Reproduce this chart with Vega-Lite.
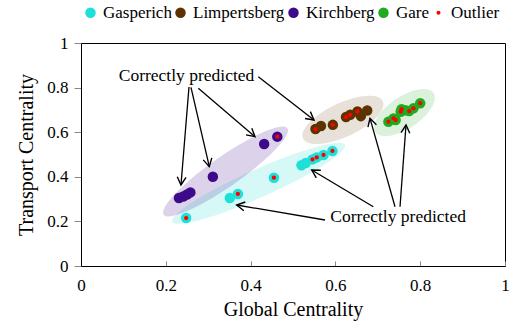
{
  "$schema": "https://vega.github.io/schema/vega-lite/v6.json",
  "width": 424,
  "height": 223,
  "autosize": {"type": "none"},
  "padding": {"left": 81, "top": 43, "right": 13, "bottom": 59},
  "config": {
    "font": "Liberation Serif",
    "view": {"stroke": "black", "strokeWidth": 1},
    "axis": {"grid": false, "labelFlush": false, "domainColor": "black", "tickColor": "#888888", "labelFont": "Liberation Serif", "titleFont": "Liberation Serif", "labelFontSize": 17, "titleFontSize": 20, "titleFontWeight": "normal", "labelColor": "black", "titleColor": "black"},
    "legend": {"labelFont": "Liberation Serif", "labelFontSize": 17}
  },
  "datasets": {
    "points": [
      {"group": "Gasperich", "x": 0.248, "y": 0.215, "outlier": true},
      {"group": "Gasperich", "x": 0.351, "y": 0.305, "outlier": false},
      {"group": "Gasperich", "x": 0.370, "y": 0.323, "outlier": true},
      {"group": "Gasperich", "x": 0.455, "y": 0.396, "outlier": true},
      {"group": "Gasperich", "x": 0.520, "y": 0.452, "outlier": false},
      {"group": "Gasperich", "x": 0.530, "y": 0.462, "outlier": false},
      {"group": "Gasperich", "x": 0.546, "y": 0.478, "outlier": true},
      {"group": "Gasperich", "x": 0.556, "y": 0.487, "outlier": true},
      {"group": "Gasperich", "x": 0.572, "y": 0.498, "outlier": true},
      {"group": "Gasperich", "x": 0.593, "y": 0.516, "outlier": true},
      {"group": "Kirchberg", "x": 0.231, "y": 0.305, "outlier": false},
      {"group": "Kirchberg", "x": 0.241, "y": 0.312, "outlier": false},
      {"group": "Kirchberg", "x": 0.250, "y": 0.321, "outlier": false},
      {"group": "Kirchberg", "x": 0.258, "y": 0.330, "outlier": false},
      {"group": "Kirchberg", "x": 0.311, "y": 0.400, "outlier": false},
      {"group": "Kirchberg", "x": 0.432, "y": 0.547, "outlier": false},
      {"group": "Kirchberg", "x": 0.463, "y": 0.580, "outlier": true},
      {"group": "Limpertsberg", "x": 0.553, "y": 0.614, "outlier": true},
      {"group": "Limpertsberg", "x": 0.566, "y": 0.628, "outlier": false},
      {"group": "Limpertsberg", "x": 0.594, "y": 0.633, "outlier": true},
      {"group": "Limpertsberg", "x": 0.625, "y": 0.668, "outlier": true},
      {"group": "Limpertsberg", "x": 0.635, "y": 0.678, "outlier": true},
      {"group": "Limpertsberg", "x": 0.652, "y": 0.693, "outlier": true},
      {"group": "Limpertsberg", "x": 0.660, "y": 0.672, "outlier": false},
      {"group": "Limpertsberg", "x": 0.675, "y": 0.697, "outlier": false},
      {"group": "Gare", "x": 0.725, "y": 0.647, "outlier": true},
      {"group": "Gare", "x": 0.737, "y": 0.662, "outlier": true},
      {"group": "Gare", "x": 0.742, "y": 0.655, "outlier": true},
      {"group": "Gare", "x": 0.754, "y": 0.692, "outlier": true},
      {"group": "Gare", "x": 0.756, "y": 0.703, "outlier": true},
      {"group": "Gare", "x": 0.765, "y": 0.698, "outlier": false},
      {"group": "Gare", "x": 0.774, "y": 0.695, "outlier": true},
      {"group": "Gare", "x": 0.784, "y": 0.707, "outlier": true},
      {"group": "Gare", "x": 0.800, "y": 0.730, "outlier": true}
    ],
    "ellipses": [
      {"group": "Gasperich", "cx": 0.419, "cy": 0.371},
      {"group": "Kirchberg", "cx": 0.341, "cy": 0.424},
      {"group": "Limpertsberg", "cx": 0.618, "cy": 0.655},
      {"group": "Gare", "cx": 0.763, "cy": 0.688}
    ],
    "arrows": [
      {"x": 0.2547, "y": 0.8027, "x2": 0.2358, "y2": 0.3632, "heading": 184.7},
      {"x": 0.2594, "y": 0.8013, "x2": 0.3026, "y2": 0.4453, "heading": 167},
      {"x": 0.2767, "y": 0.7969, "x2": 0.4104, "y2": 0.5798, "heading": 130.5},
      {"x": 0.4182, "y": 0.8489, "x2": 0.5495, "y2": 0.6547, "heading": 127.9},
      {"x": 0.5755, "y": 0.2063, "x2": 0.3672, "y2": 0.2735, "heading": 279.6},
      {"x": 0.6894, "y": 0.2659, "x2": 0.5441, "y2": 0.4305, "heading": 300.8},
      {"x": 0.7406, "y": 0.2659, "x2": 0.6816, "y2": 0.6623, "heading": 344.2},
      {"x": 0.7524, "y": 0.2659, "x2": 0.7665, "y2": 0.6323, "heading": 4.2}
    ],
    "notes": [
      {"label": "Correctly predicted", "x": 0.2488, "y": 0.854},
      {"label": "Correctly predicted", "x": 0.748, "y": 0.220}
    ]
  },
  "layer": [
    {
      "data": {"name": "ellipses"},
      "transform": [{"filter": "datum.group === 'Gasperich'"}],
      "mark": {"type": "point", "filled": true, "fillOpacity": 0.18, "strokeWidth": 0, "size": 35721, "angle": 336, "shape": "M-1,0C-1,-0.082,-0.552,-0.148,0,-0.148C0.552,-0.148,1,-0.082,1,0C1,0.082,0.552,0.148,0,0.148C-0.552,0.148,-1,0.082,-1,0Z"},
      "encoding": {
        "x": {"field": "cx", "type": "quantitative"},
        "y": {"field": "cy", "type": "quantitative"},
        "fill": {"field": "group", "type": "nominal", "legend": null, "scale": {"domain": ["Gasperich", "Limpertsberg", "Kirchberg", "Gare"], "range": ["#1ee0d8", "#5c3300", "#3d0a8a", "#1faa1f"]}}
      }
    },
    {
      "data": {"name": "ellipses"},
      "transform": [{"filter": "datum.group === 'Kirchberg'"}],
      "mark": {"type": "point", "filled": true, "fillOpacity": 0.18, "strokeWidth": 0, "size": 22801, "angle": 325, "shape": "M-1,0C-1,-0.11,-0.552,-0.2,0,-0.2C0.552,-0.2,1,-0.11,1,0C1,0.11,0.552,0.2,0,0.2C-0.552,0.2,-1,0.11,-1,0Z"},
      "encoding": {
        "x": {"field": "cx", "type": "quantitative"},
        "y": {"field": "cy", "type": "quantitative"},
        "fill": {"field": "group", "type": "nominal", "legend": null}
      }
    },
    {
      "data": {"name": "ellipses"},
      "transform": [{"filter": "datum.group === 'Limpertsberg'"}],
      "mark": {"type": "point", "filled": true, "fillOpacity": 0.15, "strokeWidth": 0, "size": 7744, "angle": 335, "shape": "M-1,0C-1,-0.213,-0.552,-0.386,0,-0.386C0.552,-0.386,1,-0.213,1,0C1,0.213,0.552,0.386,0,0.386C-0.552,0.386,-1,0.213,-1,0Z"},
      "encoding": {
        "x": {"field": "cx", "type": "quantitative"},
        "y": {"field": "cy", "type": "quantitative"},
        "fill": {"field": "group", "type": "nominal", "legend": null}
      }
    },
    {
      "data": {"name": "ellipses"},
      "transform": [{"filter": "datum.group === 'Gare'"}],
      "mark": {"type": "point", "filled": true, "fillOpacity": 0.16, "strokeWidth": 0, "size": 4900, "angle": 326, "shape": "M-1,0C-1,-0.252,-0.552,-0.457,0,-0.457C0.552,-0.457,1,-0.252,1,0C1,0.252,0.552,0.457,0,0.457C-0.552,0.457,-1,0.252,-1,0Z"},
      "encoding": {
        "x": {"field": "cx", "type": "quantitative"},
        "y": {"field": "cy", "type": "quantitative"},
        "fill": {"field": "group", "type": "nominal", "legend": null}
      }
    },
    {
      "data": {"name": "points"},
      "mark": {"type": "point", "shape": "circle", "filled": true, "opacity": 1, "size": 110},
      "encoding": {
        "x": {"field": "x", "type": "quantitative", "scale": {"domain": [0, 1]}, "title": "Global Centrality",
          "axis": {"values": [0, 0.2, 0.4, 0.6, 0.8, 1], "format": "~f", "tickSize": -5, "labelPadding": 16, "titlePadding": 6}},
        "y": {"field": "y", "type": "quantitative", "scale": {"domain": [0, 1]}, "title": "Transport Centrality",
          "axis": {"values": [0, 0.2, 0.4, 0.6, 0.8, 1], "format": "~f", "tickSize": 7, "labelPadding": 6, "titlePadding": 10}},
        "color": {"field": "group", "type": "nominal", "title": null,
          "scale": {"domain": ["Gasperich", "Limpertsberg", "Kirchberg", "Gare", "Outlier"], "range": ["#1ee0d8", "#5c3300", "#3d0a8a", "#1faa1f", "#ff0000"]},
          "legend": {"orient": "none", "legendX": 1, "legendY": -39, "direction": "horizontal", "symbolType": "circle", "symbolSize": 110, "symbolStrokeWidth": 0, "symbolOpacity": 1, "labelFont": "Liberation Serif", "labelFontSize": 17, "labelColor": "black", "labelOffset": 4, "columnPadding": 0,
            "encode": {"symbols": {"update": {"size": {"signal": "datum.value === 'Outlier' ? 16 : 110"}}}}}
        }
      }
    },
    {
      "data": {"name": "points"},
      "transform": [{"filter": "datum.outlier"}],
      "mark": {"type": "point", "shape": "circle", "filled": true, "opacity": 1, "size": 18},
      "encoding": {
        "x": {"field": "x", "type": "quantitative"},
        "y": {"field": "y", "type": "quantitative"},
        "color": {"datum": "Outlier", "title": null}
      }
    },
    {
      "data": {"name": "arrows"},
      "mark": {"type": "rule", "color": "black", "strokeWidth": 1.3},
      "encoding": {
        "x": {"field": "x", "type": "quantitative"},
        "y": {"field": "y", "type": "quantitative"},
        "x2": {"field": "x2"},
        "y2": {"field": "y2"}
      }
    },
    {
      "data": {"name": "arrows"},
      "mark": {"type": "point", "filled": false, "color": "black", "strokeWidth": 1.4, "opacity": 1, "size": 256, "shape": "M-0.55,1L0,0L0.55,1", "strokeJoin": "miter"},
      "encoding": {
        "x": {"field": "x2", "type": "quantitative"},
        "y": {"field": "y2", "type": "quantitative"},
        "angle": {"field": "heading", "type": "quantitative", "scale": null}
      }
    },
    {
      "data": {"name": "notes"},
      "mark": {"type": "text", "font": "Liberation Serif", "fontSize": 17.5, "color": "black", "align": "center", "baseline": "middle"},
      "encoding": {
        "x": {"field": "x", "type": "quantitative"},
        "y": {"field": "y", "type": "quantitative"},
        "text": {"field": "label"}
      }
    }
  ]
}
